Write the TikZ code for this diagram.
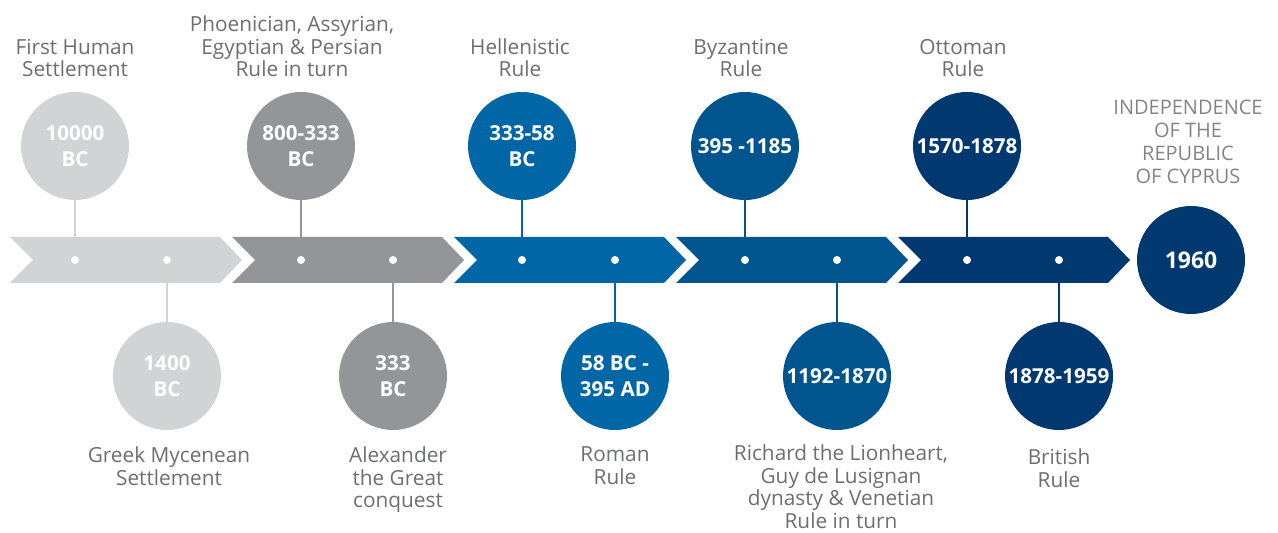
\documentclass[tikz,border=0pt]{standalone}
\usepackage{fontspec}
\setmainfont{Open Sans}
\usetikzlibrary{positioning}

\definecolor{eraA}{HTML}{D1D3D4}
\definecolor{eraB}{HTML}{939598}
\definecolor{eraC}{HTML}{0066A5}
\definecolor{eraD}{HTML}{00558F}
\definecolor{eraE}{HTML}{00386F}
\definecolor{labelgray}{HTML}{6D6E71}

\begin{document}
\begin{tikzpicture}[
    x=0.5pt, y=-0.5pt,
    era/.style={circle, minimum size=54pt, inner sep=0pt, text=white, align=center,
        font=\bfseries\fontsize{10.3}{13}\selectfont},
    caption/.style={align=center, inner sep=0pt, text=labelgray,
        font=\fontsize{10.4}{11.3}\selectfont},
    dot/.style={circle, fill=white, minimum size=4pt, inner sep=0pt},
    stem/.style={line width=0.8pt}
]
    \useasboundingbox (0,0) rectangle (1278,533);

    % Circles above the line
    \node[era, fill=eraA] (settle) at (75,146) {10000\\BC};
    \node[era, fill=eraB] (phoen) at (301,146) {800-333\\BC};
    \node[era, fill=eraC] (hellen) at (522,146) {333-58\\BC};
    \node[era, fill=eraD] (byzan) at (745,146) {395 -1185};
    \node[era, fill=eraE] (otto) at (967,146) {1570-1878};

    % Circles below the line
    \node[era, fill=eraA] (myce) at (167,376) {1400\\BC};
    \node[era, fill=eraB] (alex) at (393,376) {333\\BC};
    \node[era, fill=eraC] (roman) at (615,376) {58 BC -\\395 AD};
    \node[era, fill=eraD] (lusig) at (837,376) {1192-1870};
    \node[era, fill=eraE] (brit) at (1059,376) {1878-1959};

    \node[era, fill=eraE, font=\bfseries\fontsize{11.5}{14}\selectfont] (indep) at (1191,260) {1960};

    % Captions
    \node[caption, above=7pt of settle] (settle-l) {First Human\\Settlement};
    \node[caption, above=7pt of phoen, xshift=-4.5pt] (phoen-l) {Phoenician, Assyrian,\\Egyptian \& Persian\\Rule in turn};
    \node[caption, above=7pt of hellen, xshift=-1pt] (hellen-l) {Hellenistic\\Rule};
    \node[caption, above=7pt of byzan, xshift=-2pt] (byzan-l) {Byzantine\\Rule};
    \node[caption, above=7pt of otto, xshift=-2pt] (otto-l) {Ottoman\\Rule};

    \node[caption, below=8pt of myce, xshift=1pt] (myce-l) {Greek Mycenean\\Settlement};
    \node[caption, below=8pt of alex, xshift=2.5pt] (alex-l) {Alexander\\the Great\\conquest};
    \node[caption, below=8pt of roman] (roman-l) {Roman\\Rule};
    \node[caption, below=7pt of lusig, xshift=2pt] (lusig-l) {Richard the Lionheart,\\Guy de Lusignan\\dynasty \& Venetian\\Rule in turn};
    \node[caption, below=9pt of brit] (brit-l) {British\\Rule};

    \node[caption, above=11pt of indep, xshift=-1.5pt, text=labelgray!85,
        font=\fontsize{10}{11.5}\selectfont] (indep-l) {INDEPENDENCE\\OF THE\\REPUBLIC\\OF CYPRUS};

    % Points on the line
    \coordinate (p1) at (75,260);
    \coordinate (p2) at (167,260);
    \coordinate (p3) at (301,260);
    \coordinate (p4) at (393,260);
    \coordinate (p5) at (522,260);
    \coordinate (p6) at (615,260);
    \coordinate (p7) at (745,260);
    \coordinate (p8) at (837,260);
    \coordinate (p9) at (967,260);
    \coordinate (p10) at (1059,260);

    % Stems
    \draw[stem, eraA] (settle) -- (p1);
    \draw[stem, eraA] (myce) -- (p2);
    \draw[stem, eraB] (phoen) -- (p3);
    \draw[stem, eraB] (alex) -- (p4);
    \draw[stem, eraC] (hellen) -- (p5);
    \draw[stem, eraC] (roman) -- (p6);
    \draw[stem, eraD] (byzan) -- (p7);
    \draw[stem, eraD] (lusig) -- (p8);
    \draw[stem, eraE] (otto) -- (p9);
    \draw[stem, eraE] (brit) -- (p10);

    % Timeline bands
    \foreach \col [count=\i from 0] in {eraA,eraB,eraC,eraD,eraE}{
        \fill[\col] ({10+222*\i},237) -- ++(210,0) -- ++(22,23) -- ++(-22,23)
            -- ++(-210,0) -- ++(23,-23) -- cycle;
    }

    \foreach \p in {1,...,10}
        \node[dot] (d\p) at (p\p) {};
\end{tikzpicture}
\end{document}
